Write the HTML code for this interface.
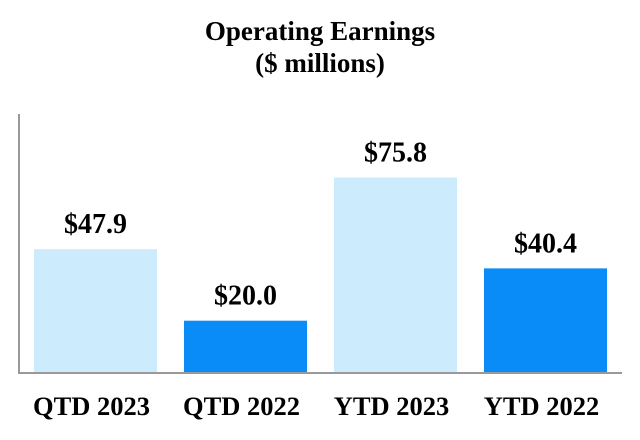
<!DOCTYPE html>
<html><head><meta charset="utf-8"><style>
html,body{margin:0;padding:0;background:#fff;}
svg{display:block;font-family:"Liberation Serif",serif;font-weight:bold;}
</style></head><body>
<svg width="640" height="440">
<text x="320" y="40" text-anchor="middle" font-size="27">Operating Earnings</text>
<text x="320" y="72" text-anchor="middle" font-size="27">($ millions)</text>
<g id="bars"></g>
<line x1="19" y1="114" x2="19" y2="373" stroke="#999" stroke-width="2"/>
<line x1="18" y1="373" x2="622" y2="373" stroke="#999" stroke-width="2"/>
</svg>
<script>
const categories = ["QTD 2023","QTD 2022","YTD 2023","YTD 2022"];
const values = [47.9, 20.0, 75.8, 40.4];
const labels = ["$47.9","$20.0","$75.8","$40.4"];
const colors = ["#CCECFD","#0A8CF8","#CCECFD","#0A8CF8"];
const baseY = 372, scale = 2.565, x0 = 34, step = 150, bw = 123;
const yPos = v => baseY - v * scale;
const g = document.getElementById('bars');
const ns = "http://www.w3.org/2000/svg";
categories.forEach((c, i) => {
  const x = x0 + i * step, y = yPos(values[i]);
  const r = document.createElementNS(ns, 'rect');
  r.setAttribute('x', x); r.setAttribute('y', y);
  r.setAttribute('width', bw); r.setAttribute('height', baseY - y);
  r.setAttribute('fill', colors[i]);
  
  
  g.appendChild(r);
  const t = document.createElementNS(ns, 'text');
  t.setAttribute('x', x + bw / 2); t.setAttribute('y', y - 16);
  t.setAttribute('text-anchor', 'middle'); t.setAttribute('font-size', '28');
  t.textContent = labels[i];
  
  
  g.appendChild(t);
  const l = document.createElementNS(ns, 'text');
  l.setAttribute('x', x + bw / 2 - 4); l.setAttribute('y', 415);
  l.setAttribute('text-anchor', 'middle'); l.setAttribute('font-size', '26.5');
  l.textContent = c;
  
  
  g.appendChild(l);
});
</script>
</body></html>
